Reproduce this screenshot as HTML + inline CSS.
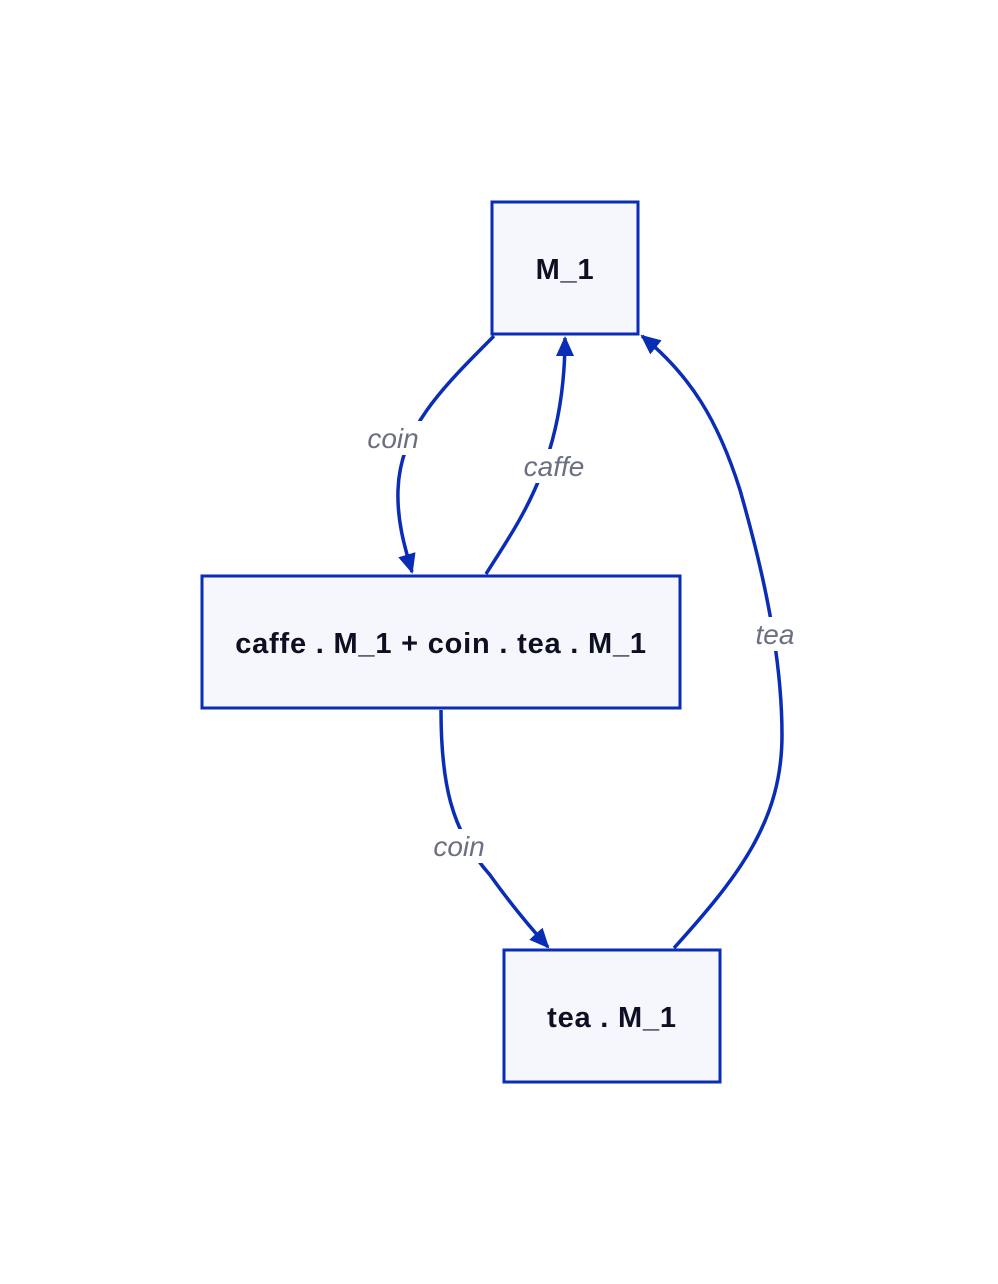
<!DOCTYPE html>
<html><head><meta charset="utf-8"><style>
html,body{margin:0;padding:0;background:#fff;width:998px;height:1284px;overflow:hidden}
svg{display:block}
.n{font-family:"Liberation Sans",sans-serif;font-weight:bold;font-size:29px;letter-spacing:0.8px;fill:#0d0f22}
.l{font-family:"Liberation Sans",sans-serif;font-style:italic;font-size:28px;fill:#6b6f82}
</style></head><body>
<svg width="998" height="1284" viewBox="0 0 998 1284" xmlns="http://www.w3.org/2000/svg">
<defs>
<marker id="b" markerWidth="22" markerHeight="22" refX="18" refY="11" orient="auto" markerUnits="userSpaceOnUse" viewBox="0 0 22 22"><path d="M0,2 L20,11 L0,20 z" fill="#0a2db5"/></marker></defs>
<g fill="none" stroke="#0a2db5" stroke-width="3.5">
<path d="M494,336 C440,390 400,430 398,490 C397,520 404,545 412,572" marker-end="url(#b)"/>
<path d="M486,574 C520,520 565,460 565,338" marker-end="url(#b)"/>
<path d="M674,948 C740,875 782,820 782,735 C782,650 760,560 740,490 C718,420 690,375 642,336" marker-end="url(#b)"/>
<path d="M441,710 C441,780 450,830 490,875 C510,903 528,925 548,947" marker-end="url(#b)"/>
</g>
<g fill="#f5f7fc" stroke="#0a2db5" stroke-width="3">
<rect x="492" y="202" width="146" height="132"/>
<rect x="202" y="576" width="478" height="132"/>
<rect x="504" y="950" width="216" height="132"/>
</g>
<text class="n" x="565" y="279" text-anchor="middle">M_1</text>
<text class="n" x="441" y="653" text-anchor="middle">caffe . M_1 + coin . tea . M_1</text>
<text class="n" x="612" y="1027" text-anchor="middle">tea . M_1</text>
<g fill="#fff"><rect x="362" y="421" width="62" height="34"/><rect x="516" y="449" width="76" height="34"/><rect x="750" y="617" width="50" height="34"/><rect x="428" y="829" width="62" height="34"/></g>
<text class="l" x="393" y="448" text-anchor="middle">coin</text>
<text class="l" x="554" y="476" text-anchor="middle">caffe</text>
<text class="l" x="775" y="644" text-anchor="middle">tea</text>
<text class="l" x="459" y="856" text-anchor="middle">coin</text>
</svg>
</body></html>
